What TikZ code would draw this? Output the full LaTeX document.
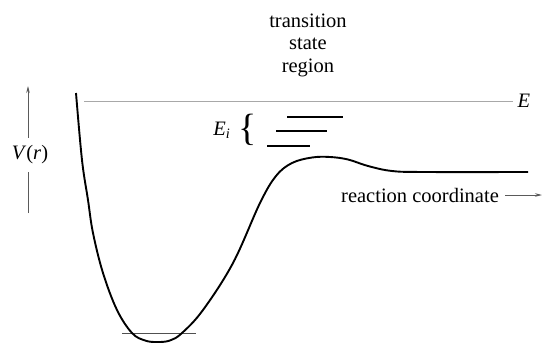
\documentclass[tikz,border=0pt]{standalone}
\usepackage{fontspec}
\setmainfont{Liberation Serif}
\usepackage{tikz}
\usetikzlibrary{positioning, arrows.meta}
\definecolor{axisgray}{HTML}{5A5A5A}
\definecolor{egray}{HTML}{A8A8A8}
\definecolor{levelgray}{HTML}{505050}

\begin{document}
\begin{tikzpicture}[
  x=1pt, y=-1pt,
  lbl/.style={inner sep=0pt, font=\fontsize{20.5}{22.5}\selectfont},
  axis/.style={axisgray, line width=0.8pt},
  arr/.style={-{Stealth[length=7pt, width=3.5pt]}, axisgray, line width=0.8pt},
  curve/.style={line width=1.9pt, black, line join=round},
  level/.style={line width=1.2pt, black}
]
\useasboundingbox (0,0) rectangle (544,343);

% labels
\node[lbl, align=center] (tsr) at (308,45) {transition\\state\\region};
\node[lbl, inner xsep=4pt, inner ysep=8pt] (vr) at (30,155) {\textit{V}(\textit{r})};
\node[lbl] (elabel) at (524,101) {\textit{E}};
\node[lbl, inner xsep=6pt] (rc) at (420,195) {reaction coordinate};
\node[inner sep=0pt, font=\fontsize{38}{38}\selectfont] (brace) at (248,130) {\{};
\node[lbl, left=8pt of brace] (ei) {\textit{E}\textsubscript{\textit{i}}};

\coordinate (vbot) at (28,213);
\coordinate (vtop) at (28,86);
\coordinate (rcend) at (542,195);

% energy E
\draw[egray, line width=0.8pt] (84,101) -- (513,101);

% axes
\draw[axis] (vbot) -- (vbot |- vr.south);
\draw[arr] (vtop |- vr.north) -- (vtop);
\draw[arr] (rc.east) -- (rcend);

% levels E_i
\draw[level] (287,117) -- (343,117);
\draw[level] (276,131) -- (327,131);
\draw[level] (267,146) -- (310,146);

% ground level
\draw[levelgray, line width=1.2pt] (122,333.5) -- (196,333.5);

% potential
\draw[curve] plot[smooth, tension=0.6] coordinates {
  (76,93) (82,160) (88,200) (93,233) (103,273) (117,310) (132,333)
  (145,340.5) (157,342) (170,340.5) (182,333) (203,310) (233,263)
  (260,203) (276,176) (292,163) (312,157.5) (330,157) (348,159.5)
  (368,166) (392,171) (425,172) (528,172)};
\end{tikzpicture}
\end{document}
